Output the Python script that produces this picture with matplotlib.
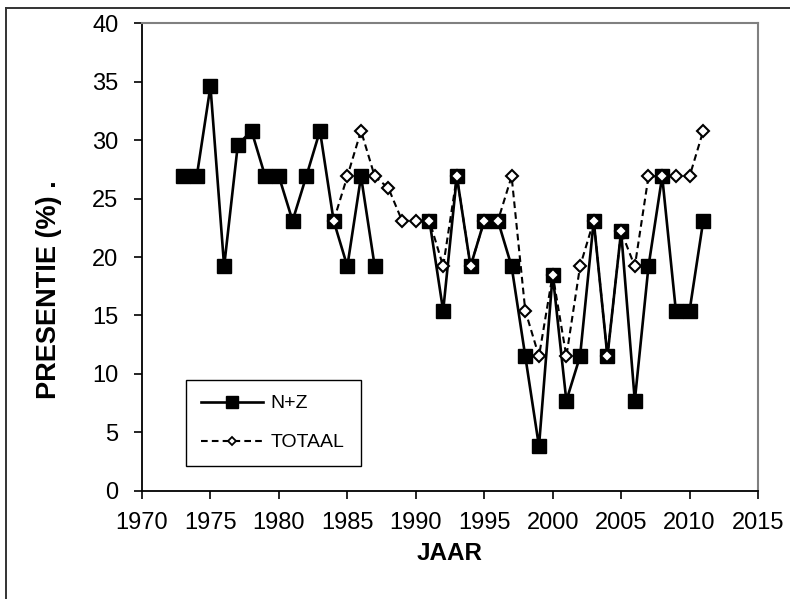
import numpy as np
import matplotlib
matplotlib.use("Agg")
import matplotlib.pyplot as plt
from matplotlib.lines import Line2D

plt.rcParams['font.family'] = ['Liberation Sans', 'DejaVu Sans']

years_nz = [1973, 1974, 1975, 1976, 1977, 1978, 1979, 1980, 1981, 1982, 1983,
            1984, 1985, 1986, 1987, 1988, 1989, 1990, 1991, 1992, 1993, 1994,
            1995, 1996, 1997, 1998, 1999, 2000, 2001, 2002, 2003, 2004, 2005,
            2006, 2007, 2008, 2009, 2010, 2011]
nz = [26.9, 26.9, 34.6, 19.2, 29.6, 30.8, 26.9, 26.9, 23.1, 26.9, 30.8,
      23.1, 19.2, 26.9, 19.2, np.nan, np.nan, np.nan, 23.1, 15.4, 26.9, 19.2,
      23.1, 23.1, 19.2, 11.5, 3.8, 18.5, 7.7, 11.5, 23.1, 11.5, 22.2,
      7.7, 19.2, 26.9, 15.4, 15.4, 23.1]

years_tot = [1984, 1985, 1986, 1987, 1988, 1989, 1990, 1991, 1992, 1993, 1994,
             1995, 1996, 1997, 1998, 1999, 2000, 2001, 2002, 2003, 2004, 2005,
             2006, 2007, 2008, 2009, 2010, 2011]
totaal = [23.1, 26.9, 30.8, 26.9, 25.9, 23.1, 23.1, 23.1, 19.2, 26.9, 19.2,
          23.1, 23.1, 26.9, 15.4, 11.5, 18.5, 11.5, 19.2, 23.1, 11.5, 22.2,
          19.2, 26.9, 26.9, 26.9, 26.9, 30.8]

xticks = [1970, 1975, 1980, 1985, 1990, 1995, 2000, 2005, 2010, 2015]
yticks = [0, 5, 10, 15, 20, 25, 30, 35, 40]

fig = plt.figure(figsize=(7.9, 5.99), dpi=100)
ax = fig.add_axes([142/790, 1-490.7/599, (758-142)/790, (490.7-23.3)/599])

ax.plot(years_nz, nz, color='black', lw=1.9, marker='s', ms=9.6,
        mfc='black', mec='black', zorder=3)
ax.plot(years_tot, totaal, color='black', lw=1.5, ls=(0, (3.2, 2.0)),
        marker='D', ms=6.3, mfc='white', mec='black', mew=1.5, zorder=4)

ax.set_xlim(1970, 2015)
ax.set_ylim(0, 40)
ax.set_xticks(xticks)
ax.set_yticks(yticks)
ax.tick_params(axis='both', direction='out', length=6, width=1.2,
               labelsize=17, colors='black')
ax.tick_params(axis='y', pad=11)
ax.tick_params(axis='x', pad=9)

for s in ['left', 'bottom']:
    ax.spines[s].set_color('black')
    ax.spines[s].set_linewidth(1.3)
for s in ['top', 'right']:
    ax.spines[s].set_color('#808080')
    ax.spines[s].set_linewidth(1.5)

ax.set_xlabel('JAAR', fontsize=17.5, fontweight='bold', labelpad=6)
ax.set_ylabel('PRESENTIE (%) .', fontsize=19.5, fontweight='bold')
ax.yaxis.set_label_coords((62-142)/616, (490.7-290)/467.4)

h1 = Line2D([], [], color='black', lw=1.9, marker='s', ms=8.5,
            mfc='black', mec='black')
h2 = Line2D([], [], color='black', lw=1.5, ls=(0, (3.2, 2.0)), marker='D',
            ms=4.5, mfc='white', mec='black', mew=1.3)
leg = ax.legend([h1, h2], ['N+Z', 'TOTAAL'], loc='lower left',
                bbox_to_anchor=((186-142)/616, (490.7-466)/467.4,
                                (361-186)/616, (466-369)/467.4),
                mode='expand', fontsize=14, frameon=True, fancybox=False,
                edgecolor='black', framealpha=1, handlelength=3.2,
                labelspacing=1.1, borderaxespad=0, borderpad=0.75,
                handletextpad=0.4)
leg.get_frame().set_linewidth(1.0)

fig.add_artist(Line2D([6/790, 6/790], [0, 1-8/599], color='#333333', lw=1.4,
                      transform=fig.transFigure))
fig.add_artist(Line2D([6/790, 1], [1-8/599, 1-8/599], color='#333333', lw=1.4,
                      transform=fig.transFigure))

fig.savefig('out.png', dpi=100)
